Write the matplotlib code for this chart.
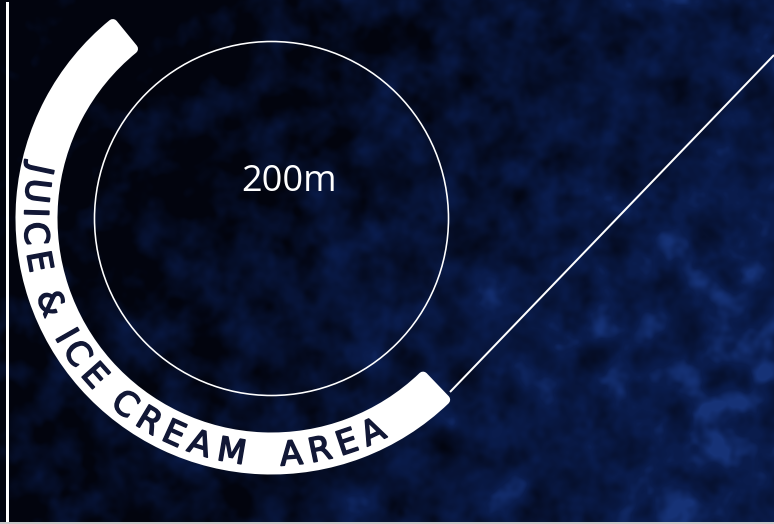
import numpy as np
import matplotlib
matplotlib.use('Agg')
import matplotlib.pyplot as plt
import matplotlib.patheffects as pe
from matplotlib.patches import Wedge, Circle
from matplotlib.font_manager import FontProperties, findfont
from matplotlib.ft2font import FT2Font

# canvas in pixels
W, H = 774, 524

# geometry (pixel coords, y down)
center = (271.5, 218.5)
ring_radius = 177
band_outer = 256
band_width = 42
band_angles = (45, 232)          # degrees, y-down data angles
ring_label = "200m"
ring_label_pos = (289, 182)
band_text = "JUICE & ICE CREAM  AREA"
text_angles = (192, 64.6)        # first and last letter centres
pointer = [(450, 392), (774, 55)]

bg_dark = np.array([2, 4, 14]) / 255
bg_blue = np.array([10, 28, 76]) / 255
bg_light = np.array([22, 50, 118]) / 255


def blur(a, s):
    fy = np.fft.fftfreq(a.shape[0])[:, None]
    fx = np.fft.fftfreq(a.shape[1])[None, :]
    k = np.exp(-2 * (np.pi * s) ** 2 * (fx ** 2 + fy ** 2))
    return np.real(np.fft.ifft2(np.fft.fft2(a) * k))


def background():
    rng = np.random.default_rng(11)
    yy, xx = np.mgrid[0:H, 0:W]
    base = -0.05 + 0.9 * (xx / W) + 0.25 * np.exp(-((yy / H - 0.65) / 0.35) ** 2)
    base -= 0.3 * np.exp(-((xx / W) ** 2 + (yy / H) ** 2) / 0.15)
    n1 = blur(rng.standard_normal((H, W)), 9)
    n2 = blur(rng.standard_normal((H, W)), 3)
    n1 /= n1.std()
    n2 /= n2.std()
    t = base + 0.18 * n1 + 0.06 * n2
    img = bg_dark + (bg_blue - bg_dark) * np.clip(t, 0, 1)[..., None]
    spots = np.clip((t - 1.05) / 0.35, 0, 1)[..., None]
    img = img + (bg_light - bg_blue) * spots
    return np.clip(img, 0, 1)


fig = plt.figure(figsize=(W / 100, H / 100), dpi=100)
ax = fig.add_axes([0, 0, 1, 1])
ax.imshow(background(), extent=(0, W, H, 0), interpolation='bilinear')
ax.set_xlim(0, W)
ax.set_ylim(H, 0)
ax.axis('off')

px = 72 / 100  # points per pixel

# thin circle + label
ax.add_patch(Circle(center, ring_radius, fill=False, ec='white', lw=1.6 * px))
ax.text(*ring_label_pos, ring_label, color='white', fontsize=26,
        family='Open Sans', ha='center', va='center')

# thick band with rounded corners (stroke with round joins)
pad = 5
mid_r = band_outer - band_width / 2
dang = np.degrees(pad / mid_r)
ax.add_patch(Wedge(center, band_outer - pad, band_angles[0] + dang,
                   band_angles[1] - dang, width=band_width - 2 * pad,
                   fc='white', ec='white', lw=2 * pad * px, joinstyle='round'))

# pointer line
ax.plot([pointer[0][0], pointer[1][0]], [pointer[0][1], pointer[1][1]],
        color='white', lw=2 * px, solid_capstyle='butt')

# frame lines
ax.plot([6.5, 6.5], [3, H], color='white', lw=3 * px)
ax.plot([0, W], [522.5, 522.5], color='#c8c8c8', lw=3 * px)

# letters along the band
fsize = 24
txt_color = '#121836'
fp = FontProperties(family='DejaVu Sans', size=fsize)
font = FT2Font(findfont(fp))
font.set_size(fsize, 100)
adv = np.array([font.load_char(ord(c)).linearHoriAdvance / 65536 for c in band_text])
cent = np.cumsum(adv) - adv / 2
frac = (cent - cent[0]) / (cent[-1] - cent[0])
angs = text_angles[0] + frac * (text_angles[1] - text_angles[0])
r_base = mid_r + 12
thick = [pe.withStroke(linewidth=1.1, foreground=txt_color)]
for ch, a in zip(band_text, angs):
    if ch == ' ':
        continue
    t = np.radians(a)
    x = center[0] + r_base * np.cos(t)
    y = center[1] + r_base * np.sin(t)
    ax.text(x, y, ch, fontproperties=fp, color=txt_color, ha='center',
            va='baseline', rotation=90 - a, rotation_mode='anchor',
            path_effects=thick)

fig.savefig('out.png', dpi=100)
